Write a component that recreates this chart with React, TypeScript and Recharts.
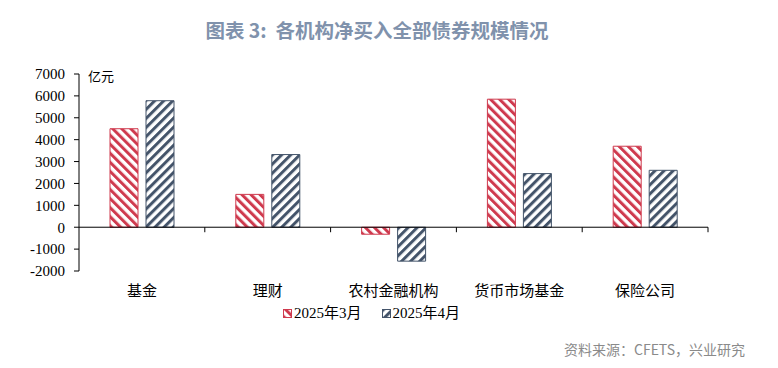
import React from "react";
import { BarChart, Bar, XAxis, YAxis, ReferenceLine } from "recharts";

const categories = ["基金", "理财", "农村金融机构", "货币市场基金", "保险公司"];
const march = [4500, 1500, -320, 5850, 3700];
const april = [5780, 3320, -1550, 2450, 2600];
const yTicks = [-2000, -1000, 0, 1000, 2000, 3000, 4000, 5000, 6000, 7000];

const RED = "#CF3A4E";
const BLUE = "#44546A";

const data = categories.map((name, i) => ({ name, mar: march[i], apr: april[i] }));

const serif = "'Liberation Serif', 'Times New Roman', serif";
const cjk = "'Noto Sans CJK SC', sans-serif";

function ZeroLine(props: any) {
  const { x1, y1, x2 } = props;
  const step = (x2 - x1) / categories.length;
  const marks = [];
  for (let i = 1; i <= categories.length; i++) {
    const x = x1 + step * i;
    marks.push(<line key={i} x1={x} y1={y1} x2={x} y2={y1 + 5} stroke="#000" strokeWidth={1} />);
  }
  return (
    <g>
      <line x1={x1} y1={y1} x2={x2} y2={y1} stroke="#000" strokeWidth={1} />
      {marks}
    </g>
  );
}

function Swatch({ id, color }: { id: string; color: string }) {
  return (
    <svg width={9} height={9} style={{ display: "block" }}>
      <rect x={0.5} y={0.5} width={8} height={8} fill={`url(#${id})`} stroke={color} strokeWidth={1} />
    </svg>
  );
}

export default function App() {
  return (
    <div style={{ position: "absolute", left: 0, top: 0, width: 778, height: 368, background: "#fff" }}>
      <svg width={0} height={0} style={{ position: "absolute" }}>
        <defs>
          <pattern id="hatchMar" width={6.4} height={6.4} patternUnits="userSpaceOnUse" patternTransform="rotate(-45)">
            <rect x={0} y={0} width={6.4} height={6.4} fill="#fff" />
            <rect x={0} y={0} width={3} height={6.4} fill={RED} />
          </pattern>
          <pattern id="hatchApr" width={6.4} height={6.4} patternUnits="userSpaceOnUse" patternTransform="rotate(45)">
            <rect x={0} y={0} width={6.4} height={6.4} fill="#fff" />
            <rect x={0} y={0} width={3} height={6.4} fill={BLUE} />
          </pattern>
        </defs>
      </svg>

      <div
        style={{
          position: "absolute",
          top: 17,
          left: -12,
          width: 778,
          textAlign: "center",
          fontFamily: cjk,
          fontWeight: 700,
          fontSize: 19.5,
          color: "#8092AC",
          lineHeight: "26px",
        }}
      >
        图表 3:&nbsp;&nbsp;各机构净买入全部债券规模情况
      </div>

      <div style={{ position: "absolute", left: 88, top: 67, fontFamily: cjk, fontSize: 13, color: "#000", lineHeight: "18px" }}>
        亿元
      </div>

      <BarChart
        width={778}
        height={368}
        data={data}
        margin={{ top: 74, right: 70, bottom: 67, left: 29 }}
        barSize={28}
        barGap={8}
      >
        <YAxis
          width={50}
          domain={[-2000, 7000]}
          ticks={yTicks}
          interval={0}
          tickSize={5}
          tickMargin={9}
          axisLine={{ stroke: "#000" }}
          tickLine={{ stroke: "#000" }}
          tick={{ fill: "#000", fontSize: 15, fontFamily: serif }}
        />
        <XAxis
          dataKey="name"
          height={30}
          axisLine={false}
          tickLine={false}
          tickSize={0}
          tickMargin={14}
          interval={0}
          tick={{ fill: "#000", fontSize: 15, fontFamily: cjk }}
        />
        <Bar dataKey="mar" fill="url(#hatchMar)" stroke={RED} strokeWidth={1} isAnimationActive={false} />
        <Bar dataKey="apr" fill="url(#hatchApr)" stroke={BLUE} strokeWidth={1} isAnimationActive={false} />
        <ReferenceLine y={0} shape={ZeroLine} ifOverflow="extendDomain" />
      </BarChart>

      <div
        style={{
          position: "absolute",
          top: 303,
          left: 283,
          display: "flex",
          alignItems: "center",
          fontFamily: `'Liberation Serif', ${cjk}`,
          fontSize: 15,
          color: "#000",
          lineHeight: "20px",
        }}
      >
        <Swatch id="hatchMar" color={RED} />
        <span style={{ marginLeft: 2 }}>2025年3月</span>
        <span style={{ width: 20 }} />
        <Swatch id="hatchApr" color={BLUE} />
        <span style={{ marginLeft: 2 }}>2025年4月</span>
      </div>

      <div
        style={{
          position: "absolute",
          top: 340,
          right: 33,
          fontFamily: cjk,
          fontSize: 14,
          color: "#8A8A8A",
          lineHeight: "18px",
        }}
      >
        资料来源：CFETS，兴业研究
      </div>
    </div>
  );
}
